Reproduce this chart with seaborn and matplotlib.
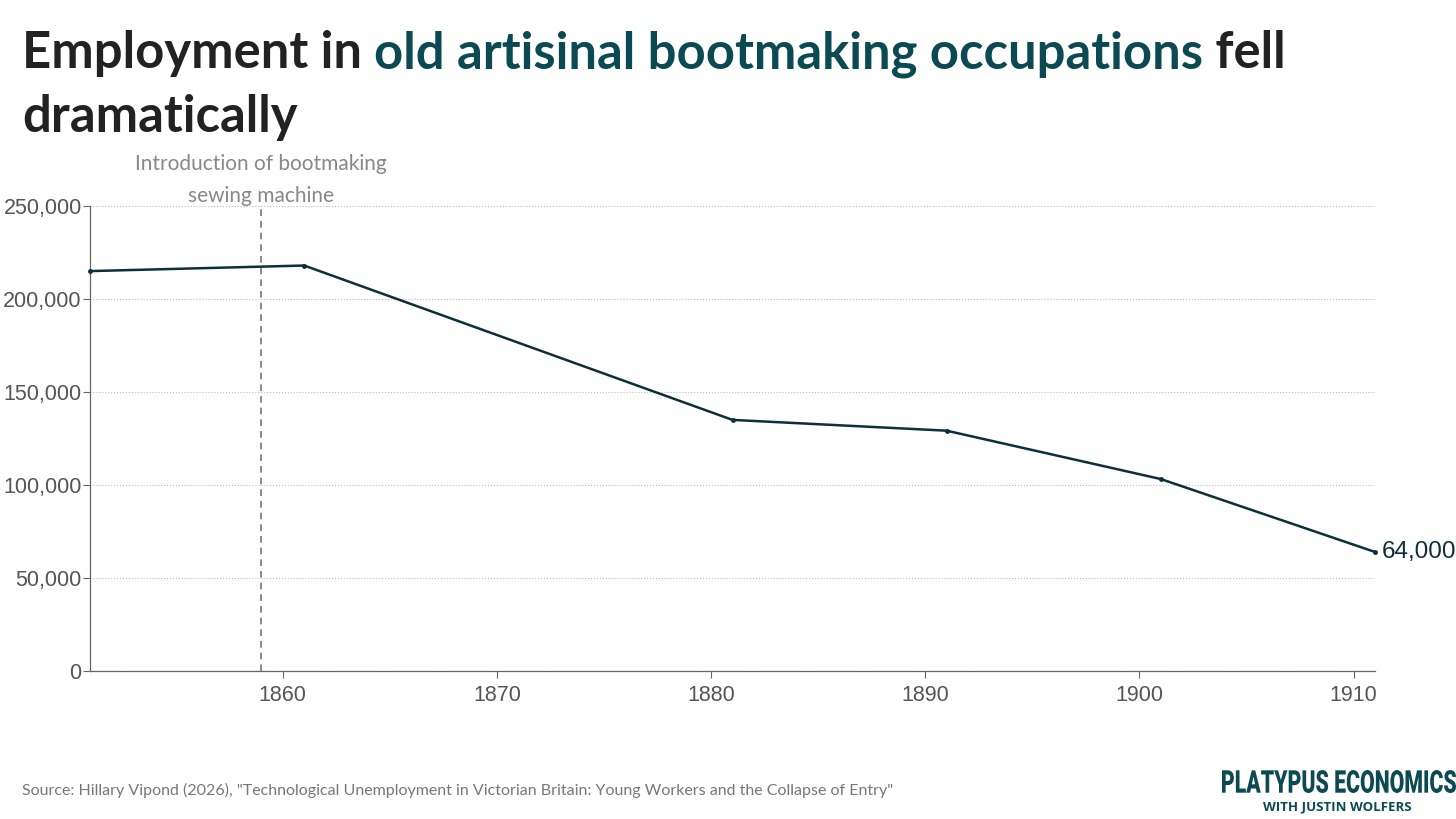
import pandas as pd
import seaborn as sns
import matplotlib.pyplot as plt
from matplotlib.ticker import FuncFormatter
from matplotlib.textpath import TextPath
from matplotlib.font_manager import FontProperties
from matplotlib.patches import PathPatch
from matplotlib.transforms import Affine2D, IdentityTransform

# Census data: employment in old artisinal bootmaking occupations
years = [1851, 1861, 1881, 1891, 1901, 1911]
employment = [215000, 218000, 135000, 129200, 103200, 64000]
x_ticks = [1860, 1870, 1880, 1890, 1900, 1910]
y_ticks = [0, 50000, 100000, 150000, 200000, 250000]
machine_year = 1859

df = pd.DataFrame({'year': years, 'employment': employment})

line_col = '#0d2f3a'
teal = '#0b4a52'
grey_txt = '#555555'
W, H = 1456, 819

sns.set_theme(style='white')
plt.rcParams['font.family'] = ['Liberation Sans', 'DejaVu Sans']

fig = plt.figure(figsize=(W / 100, H / 100), dpi=100)
ax = fig.add_axes([90 / W, 1 - 671 / H, (1375 - 90) / W, (671 - 206) / H])

sns.lineplot(data=df, x='year', y='employment', ax=ax, color=line_col, linewidth=1.8,
             marker='o', markersize=3.5, markeredgewidth=0, clip_on=False, zorder=3)

ax.set_xlim(1851, 1911)
ax.set_ylim(0, 250000)
ax.set_xticks(x_ticks)
ax.set_yticks(y_ticks)
ax.yaxis.set_major_formatter(FuncFormatter(lambda v, p: f'{int(v):,}'))
ax.set_xlabel('')
ax.set_ylabel('')
ax.tick_params(axis='both', labelsize=15.5, colors='#666666', labelcolor=grey_txt,
               length=5, width=0.8, direction='out', bottom=True, left=True)
ax.tick_params(axis='y', pad=1)
ax.tick_params(axis='x', pad=5)
ax.grid(axis='y', color='#bbbbbb', linestyle=':', linewidth=0.8)
ax.grid(axis='x', visible=False)
for s in ['top', 'right']:
    ax.spines[s].set_visible(False)
for s in ['left', 'bottom']:
    ax.spines[s].set_color('#666666')
    ax.spines[s].set_linewidth(0.9)

# sewing machine marker
ax.axvline(machine_year, color='#777777', linestyle=(0, (4, 3)), linewidth=1.2, zorder=2)
ax.text(machine_year, 1.0, 'Introduction of bootmaking\nsewing machine',
        transform=ax.get_xaxis_transform(), ha='center', va='bottom',
        fontsize=15, color='#888888', family=['Lato', 'DejaVu Sans'], linespacing=1.75)

# end label
ax.annotate(f'{employment[-1]:,}', xy=(years[-1], employment[-1]), xytext=(5, 0),
            textcoords='offset points', ha='left', va='center', fontsize=17.5,
            color=line_col, annotation_clip=False)

# multi-colour title
fig.canvas.draw()
renderer = fig.canvas.get_renderer()
title_kw = dict(fontsize=36.5, fontweight='bold', family=['Lato', 'DejaVu Sans'], va='baseline')
x0 = 22 / W
y1 = 1 - 68 / H
t = fig.text(x0, y1, 'Employment in ', color='#222222', **title_kw)
bb = t.get_window_extent(renderer)
t2 = fig.text(bb.x1 / W, y1, 'old artisinal bootmaking occupations', color=teal, **title_kw)
bb2 = t2.get_window_extent(renderer)
fig.text(bb2.x1 / W, y1, ' fell', color='#222222', **title_kw)
fig.text(x0, 1 - 132 / H, 'dramatically', color='#222222', **title_kw)

# source
fig.text(22 / W, 1 - 790 / H,
         'Source: Hillary Vipond (2026), "Technological Unemployment in Victorian Britain: '
         'Young Workers and the Collapse of Entry"',
         fontsize=11.5, color='#777777', family=['Lato', 'DejaVu Sans'], va='center')

# logo wordmark, squeezed into a condensed shape
tp = TextPath((0, 0), 'PLATYPUS ECONOMICS', size=40,
              prop=FontProperties(family='Roboto', weight='black'))
ext = tp.get_extents()
box_x0, box_x1 = 1222, 1456
box_top, box_bot = 770, 793
sx = (box_x1 - box_x0) / ext.width
sy = (box_bot - box_top) / ext.height
tr = Affine2D().translate(-ext.x0, -ext.y0).scale(sx, sy).translate(box_x0, H - box_bot)
fig.add_artist(PathPatch(tr.transform_path(tp), transform=IdentityTransform(),
                         facecolor=teal, edgecolor='none'))
fig.text(1412 / W, 1 - 807 / H, 'WITH JUSTIN WOLFERS', ha='right', va='center',
         fontsize=9.5, fontweight='bold', color=teal, family=['Open Sans', 'DejaVu Sans'])

fig.savefig('out.png', dpi=100)
